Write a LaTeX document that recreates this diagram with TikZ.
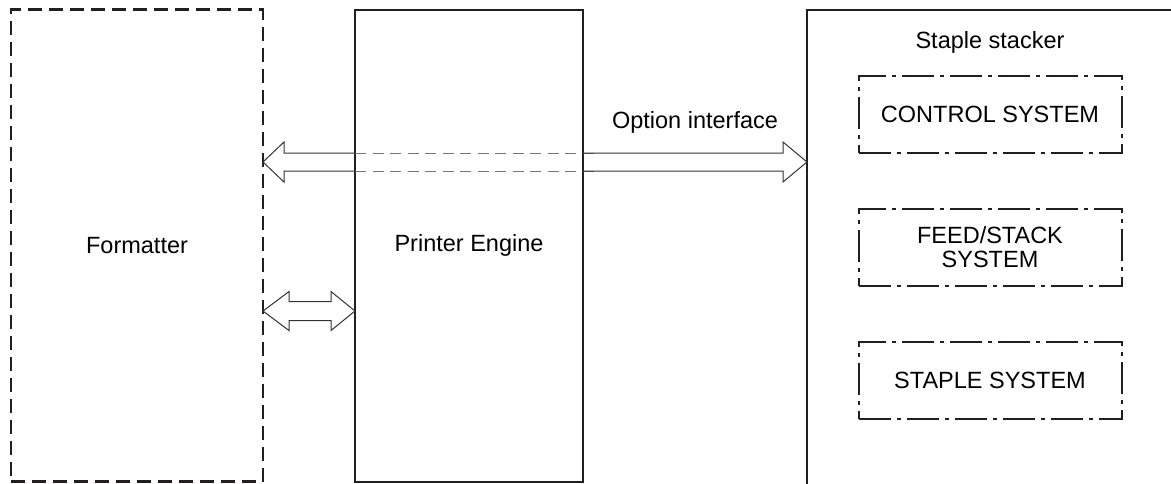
\documentclass[tikz,border=0pt]{standalone}
\usepackage{fontspec}
\setmainfont{Liberation Sans}
\usepackage{xcolor}
\usetikzlibrary{positioning, calc}
\definecolor{lineblk}{HTML}{231F20}
\definecolor{arrgray}{HTML}{333333}
\definecolor{dashgray}{HTML}{777777}

\begin{document}
\begin{tikzpicture}[x=1pt, y=-1pt,
    unit/.style={draw=lineblk, line width=2pt, minimum width=228pt,
      minimum height=472pt, inner sep=0pt, outer sep=0pt,
      font=\fontsize{23.5}{24}\selectfont},
    fmtbox/.style={unit, line width=2.4pt, dash pattern=on 14pt off 7pt,
      minimum width=252pt},
    subbox/.style={draw=lineblk, line width=2pt,
      dash pattern=on 32pt off 6pt on 4pt off 6pt, minimum width=263pt,
      minimum height=77pt, align=center, inner sep=0pt, outer sep=0pt,
      font=\fontsize{23.5}{24}\selectfont},
    lbl/.style={font=\fontsize{23.5}{24}\selectfont, inner sep=0pt},
    hollow/.style={draw=arrgray, line width=1pt, line join=miter},
    hollowdash/.style={draw=dashgray, line width=1pt,
      dash pattern=on 11pt off 6.5pt},
    node distance=56pt
  ]
  \useasboundingbox (0,0) rectangle (1171,483);
  \clip (0,0) rectangle (1171,483);
  \node[fmtbox] (fmt) at (137,245.5) {Formatter};
  \node[unit, right=92pt of fmt] (eng) {Printer Engine};
  \node[unit, anchor=north west, minimum width=420pt, minimum height=520pt]
    (stk) at (807,10) {};
  \node[lbl, anchor=base] (stklbl) at (990,48) {Staple stacker};
  \node[subbox] (ctl) at (990,114.5) {CONTROL SYSTEM};
  \node[subbox, below=of ctl] (feed) {FEED/STACK\\SYSTEM};
  \node[subbox, below=of feed] (stp) {STAPLE SYSTEM};
  \coordinate (optmid) at ($(eng.east)!.5!(stk.west)$);
  \node[lbl, anchor=base] (optlbl) at (optmid |- 0,128) {Option interface};
  \coordinate (oL) at (fmt.east |- 0,162);
  \coordinate (oR) at (stk.west |- 0,162);
  \draw[hollowdash] (eng.west |- 0,153) -- ($(eng.east |- 0,153)+(15,0)$);
  \draw[hollowdash] (eng.west |- 0,171) -- ($(eng.east |- 0,171)+(15,0)$);
  \draw[hollow] (eng.west |- 0,153) -- ($(oL)+(21,-9)$) -- ++(0,-11) -- (oL)
    -- ++(21,20) -- ++(0,-11) -- (eng.west |- 0,171);
  \draw[hollow] (eng.east |- 0,153) -- ($(oR)+(-24,-9)$) -- ++(0,-11) -- (oR)
    -- ++(-24,20) -- ++(0,-11) -- (eng.east |- 0,171);
  \coordinate (sL) at (fmt.east |- 0,311);
  \coordinate (sR) at (eng.west |- 0,311);
  \draw[hollow] (sL) -- ++(26,-19.5) -- ++(0,10) -- ($(sR)+(-24,-9.5)$)
    -- ++(0,-10) -- (sR) -- ++(-24,19.5) -- ++(0,-10) -- ($(sL)+(26,9.5)$)
    -- ++(0,10) -- cycle;
\end{tikzpicture}
\end{document}
